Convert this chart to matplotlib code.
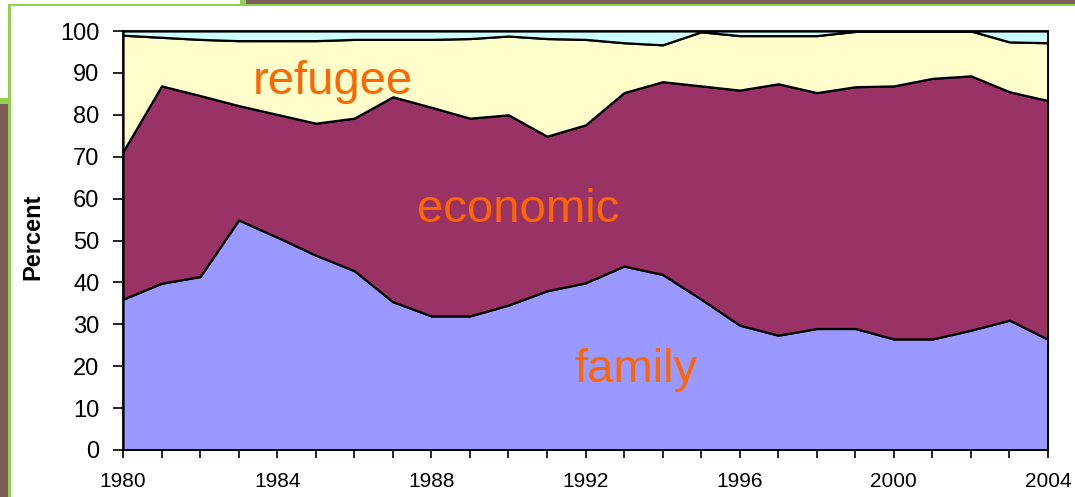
import numpy as np
import matplotlib
matplotlib.use("Agg")
from matplotlib import pyplot as plt
from matplotlib.patches import Rectangle

plt.rcParams['font.family'] = ['Liberation Sans', 'DejaVu Sans']

# share of admissions by class, percent
years = list(range(1980, 2005))
family = [36.0, 39.8, 41.4, 54.9, 50.8, 46.5, 42.8, 35.4, 32.0, 32.0, 34.6, 38.0, 39.9,
          43.9, 41.9, 36.0, 29.8, 27.4, 29.0, 29.0, 26.5, 26.5, 28.6, 31.0, 26.4]
economic = [35.2, 47.1, 43.2, 27.3, 29.3, 31.5, 36.4, 48.9, 49.8, 47.2, 45.4, 36.9, 37.7,
            41.4, 46.0, 50.9, 56.1, 60.0, 56.3, 57.7, 60.4, 62.2, 60.7, 54.5, 57.0]
refugee = [27.8, 11.6, 13.4, 15.5, 17.6, 19.7, 18.8, 13.7, 16.2, 19.0, 18.8, 23.3, 20.4,
           11.9, 8.8, 12.9, 13.0, 11.5, 13.6, 13.2, 13.1, 11.3, 10.7, 11.9, 13.8]
other = [1.0, 1.5, 2.0, 2.3, 2.3, 2.3, 2.0, 2.0, 2.0, 1.8, 1.2, 1.8, 2.0,
         2.8, 3.3, 0.2, 1.1, 1.1, 1.1, 0.1, 0.0, 0.0, 0.0, 2.6, 2.8]

labels = ['family', 'economic', 'refugee']
label_pos = [(1993.3, 16.3), (1990.25, 54.5), (1985.45, 84.9)]
colors = ['#9999FF', '#993366', '#FFFFCC', '#CCFFFF']

W, H = 1075, 497
fig = plt.figure(figsize=(W / 100, H / 100), dpi=100)
fig.patch.set_facecolor('white')


def px_rect(x0, y0, x1, y1, color):
    # rectangle given in picture pixels (origin top-left)
    fig.patches.append(Rectangle((x0 / W, 1 - y1 / H), (x1 - x0) / W, (y1 - y0) / H,
                                 transform=fig.transFigure, facecolor=color,
                                 edgecolor='none', zorder=0))


brown = '#7B5E57'
green = '#92D050'
px_rect(246, 0, W, 4, brown)
px_rect(10, 4, W, 6, green)
px_rect(240, 0, 246, 6, green)
px_rect(0, 101, 8, H, brown)
px_rect(0, 98, 11, 104, green)
px_rect(8, 4, 11, H, green)

ax = fig.add_axes([123 / W, 1 - 450 / H, 925 / W, 419 / H])
ax.stackplot(years, family, economic, refugee, other, colors=colors,
             edgecolor='black', linewidth=1.6)

ax.set_xlim(1980, 2004)
ax.set_ylim(0, 100)
ax.set_yticks(range(0, 101, 10))
ax.set_xticks(years)
ax.set_xticklabels([str(y) if (y - 1980) % 4 == 0 else '' for y in years])
ax.tick_params(axis='y', length=7, width=1.2, pad=10, labelsize=17)
ax.tick_params(axis='x', length=6, width=1.2, pad=10, labelsize=15)
for s in ax.spines.values():
    s.set_linewidth(1.3)
    s.set_color('black')

fig.text(33 / W, 1 - 237 / H, 'Percent', rotation=90, ha='center', va='center',
         fontsize=17, fontweight='bold')

for name, (x, y) in zip(labels, label_pos):
    ax.text(x, y, name, ha='center', va='baseline', fontsize=34, color='#FF6600')

fig.savefig('out.png', dpi=100)
